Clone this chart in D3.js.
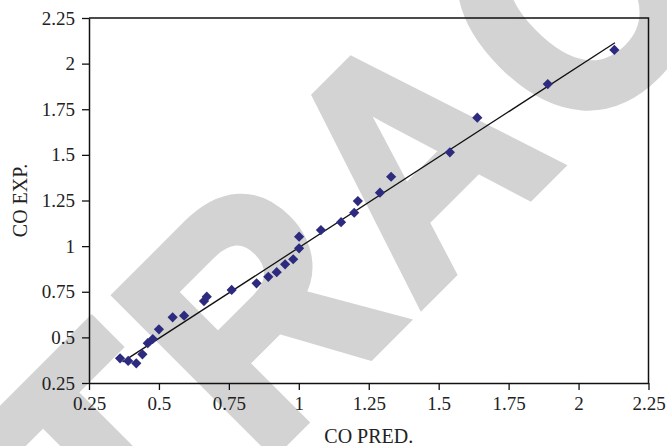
<!DOCTYPE html>
<html>
<head>
<meta charset="utf-8">
<script src="https://cdn.jsdelivr.net/npm/d3@7/dist/d3.min.js"></script>
<style>
html,body{margin:0;padding:0;background:#fff;}
svg{display:block;}
</style>
</head>
<body>
<svg id="chart" width="667" height="446"></svg>
<script>
// ---- data ----
const coPred = [0.361,0.390,0.419,0.441,0.460,0.478,0.500,0.549,0.590,0.661,0.671,0.760,0.849,0.891,0.921,0.951,0.980,1.001,1.001,1.079,1.151,1.198,1.211,1.290,1.330,1.540,1.638,1.890,2.128];
const coExp  = [0.385,0.371,0.358,0.407,0.468,0.491,0.544,0.610,0.619,0.699,0.723,0.760,0.796,0.832,0.857,0.900,0.928,0.988,1.052,1.088,1.131,1.183,1.247,1.293,1.380,1.514,1.704,1.888,2.075];
const trendX = [0.37, 2.13];
const trendY = [0.366, 2.114];
const tickValues = [0.25,0.5,0.75,1,1.25,1.5,1.75,2,2.25];
const tickLabels = ["0.25","0.5","0.75","1","1.25","1.5","1.75","2","2.25"];
const xTitle = "CO PRED.";
const yTitle = "CO EXP.";
const watermark = "RETRACTED";

(function () {
const svg = d3.select("#chart");
const pL = 89, pR = 648.5, pT = 18, pB = 383;

// watermark
svg.append("g")
  .attr("transform", "rotate(-45) scale(0.9,1)")
  .append("text")
  .attr("x", -848)
  .attr("y", 512.6)
  .attr("font-family", "'Liberation Sans', Arial, sans-serif")
  .attr("font-weight", "bold")
  .attr("font-size", 320)
  .attr("letter-spacing", 15.6)
  .attr("fill", "#d3d3d3")
  .attr("stroke", "#d3d3d3")
  .attr("stroke-width", 11)
  .attr("stroke-linejoin", "miter")
  .text(watermark);

const x = d3.scaleLinear().domain([0.25, 2.25]).range([pL, pR]);
const y = d3.scaleLinear().domain([0.25, 2.25]).range([pB, pT]);

const fmt = (d) => tickLabels[tickValues.indexOf(d)];

const xAxis = svg.append("g")
  .attr("transform", `translate(0,${pB})`)
  .call(d3.axisBottom(x).tickValues(tickValues).tickFormat(fmt).tickSize(7).tickPadding(7).tickSizeOuter(0));
const yAxis = svg.append("g")
  .attr("transform", `translate(${pL},0)`)
  .call(d3.axisLeft(y).tickValues(tickValues).tickFormat(fmt).tickSize(7).tickPadding(7).tickSizeOuter(0));

[xAxis, yAxis].forEach(g => {
  g.select(".domain").attr("stroke", "#111").attr("stroke-width", 1.5);
  g.selectAll(".tick line").attr("stroke", "#111").attr("stroke-width", 1.3);
  g.selectAll(".tick text")
    .attr("font-family", "'Liberation Serif', 'Times New Roman', serif")
    .attr("font-size", 19)
    .attr("fill", "#222");
});

// frame top & right
svg.append("path")
  .attr("d", `M${pL},${pT}H${pR}V${pB}`)
  .attr("fill", "none").attr("stroke", "#111").attr("stroke-width", 1.5);

// trend line
svg.append("line")
  .attr("x1", x(trendX[0])).attr("y1", y(trendY[0]))
  .attr("x2", x(trendX[1])).attr("y2", y(trendY[1]))
  .attr("stroke", "#111").attr("stroke-width", 1.3);

// points
const sym = d3.symbol().type(d3.symbolSquare).size(52);
svg.append("g").selectAll("path")
  .data(coPred.map((v, i) => [v, coExp[i]]))
  .join("path")
  .attr("d", sym)
  .attr("transform", d => `translate(${x(d[0])},${y(d[1])}) rotate(45)`)
  .attr("fill", "#2d2b7f");

// titles
svg.append("text")
  .attr("x", (pL + pR) / 2).attr("y", 443)
  .attr("text-anchor", "middle")
  .attr("font-family", "'Liberation Serif', 'Times New Roman', serif")
  .attr("font-size", 20).attr("fill", "#222")
  .text(xTitle);
svg.append("text")
  .attr("transform", `translate(27,${(pT + pB) / 2}) rotate(-90)`)
  .attr("text-anchor", "middle")
  .attr("font-family", "'Liberation Serif', 'Times New Roman', serif")
  .attr("font-size", 20).attr("fill", "#222")
  .text(yTitle);
})();
</script>
</body>
</html>
